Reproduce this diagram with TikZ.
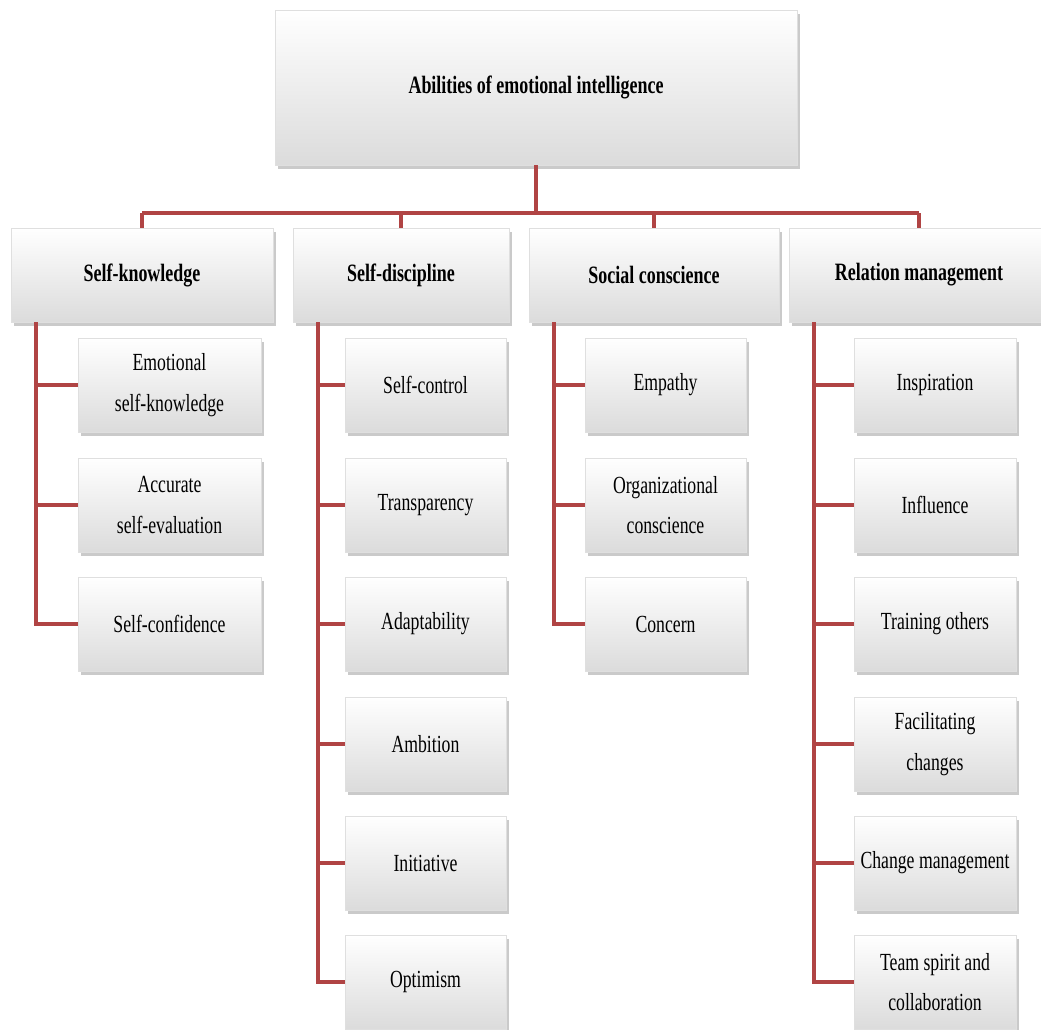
\documentclass[tikz,border=0pt]{standalone}
\usepackage{fontspec}
\setmainfont{Liberation Serif}[FakeStretch=0.72]
\usepackage{tikz}
\usetikzlibrary{positioning, shadows}
\definecolor{linkred}{RGB}{176,68,68}
\tikzset{
        box/.style={draw=gray!25, line width=0.4pt, top color=white, bottom color=gray!28,
                    drop shadow={shadow xshift=0.06cm, shadow yshift=-0.08cm, fill=gray!70, opacity=0.6},
                    align=center, inner sep=1pt, font=\fontsize{14}{23}\selectfont}, % every box
        head/.style={box, minimum height=1.88cm, font=\bfseries\fontsize{14.2}{18}\selectfont}, % second row
        item/.style={box, minimum width=3.66cm, minimum height=1.88cm}, % leaves
        link/.style={draw=linkred, line width=2.1pt}, % red connectors
    }
\begin{document}
\begin{tikzpicture}[x=0.02cm, y=-0.02cm]
    \useasboundingbox (0,0) rectangle (1041,1030);
    % root
    \node[box, minimum width=10.44cm, minimum height=3.1cm, font=\bfseries\fontsize{14.2}{18}\selectfont] (top) at (536,87.5) {Abilities of emotional intelligence};
    % second row
    \node[head, minimum width=5.24cm] (sk) at (142,275) {Self-knowledge};
    \node[head, minimum width=4.32cm] (sd) at (401,275) {Self-discipline};
    \node[head, minimum width=5.0cm] (sc) at (654,275) {Social conscience};
    \node[head, minimum width=5.2cm] (rm) at (919,275) {Relation management};
    \coordinate (bus) at (0,213);
    % leaves
    \node[item] (sk1) at (169.5,385) {Emotional\\self-knowledge};
    \node[item] (sk2) at (169.5,505) {Accurate\\self-evaluation};
    \node[item] (sk3) at (169.5,624) {Self-confidence};
    \node[item, minimum width=3.22cm] (sd1) at (425.5,385) {Self-control};
    \node[item, minimum width=3.22cm] (sd2) at (425.5,505) {Transparency};
    \node[item, minimum width=3.22cm] (sd3) at (425.5,624) {Adaptability};
    \node[item, minimum width=3.22cm] (sd4) at (425.5,744) {Ambition};
    \node[item, minimum width=3.22cm] (sd5) at (425.5,863) {Initiative};
    \node[item, minimum width=3.22cm] (sd6) at (425.5,982) {Optimism};
    \node[item, minimum width=3.22cm] (sc1) at (665.5,385) {Empathy};
    \node[item, minimum width=3.22cm] (sc2) at (665.5,505) {Organizational\\conscience};
    \node[item, minimum width=3.22cm] (sc3) at (665.5,624) {Concern};
    \node[item, minimum width=3.24cm] (rm1) at (935,385) {Inspiration};
    \node[item, minimum width=3.24cm] (rm2) at (935,505) {Influence};
    \node[item, minimum width=3.24cm] (rm3) at (935,624) {Training others};
    \node[item, minimum width=3.24cm] (rm4) at (935,744) {Facilitating\\changes};
    \node[item, minimum width=3.24cm] (rm5) at (935,863) {Change management};
    \node[item, minimum width=3.24cm] (rm6) at (935,982) {Team spirit and\\collaboration};
    % root to heads
    \draw[link] (top.south) -- (top.south |- bus);
    \draw[link] (sk.north |- bus) -- (rm.north |- bus);
    \foreach \h in {sk, sd, sc, rm}
      \draw[link] (\h.north) -- (\h.north |- bus);
    % heads to leaves
    \foreach \h/\n in {sk/3, sd/6, sc/3, rm/6} {
      \coordinate (\h-l) at ([xshift=0.5cm]\h.south west);
      \draw[link] (\h-l) |- (\h\n.west);
      \foreach \i in {1,...,\n}
        \draw[link] (\h-l |- \h\i.west) -- (\h\i.west);
    }
\end{tikzpicture}
\end{document}
